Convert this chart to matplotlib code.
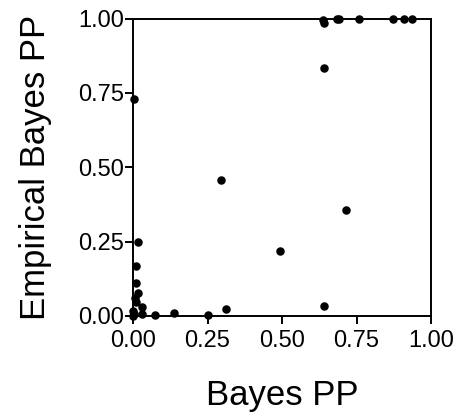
import matplotlib
matplotlib.use("Agg")
import matplotlib.pyplot as plt

plt.rcParams["font.family"] = ["Liberation Sans", "DejaVu Sans"]

# Posterior probabilities: Bayes (x) vs empirical Bayes (y)
bayes_pp = [0.003, 0.295, 0.494, 0.018, 0.009, 0.009, 0.015, 0.009, 0.029,
            0.001, 0.003, 0.029, 0.074, 0.138, 0.250, 0.311,
            0.636, 0.640, 0.683, 0.692, 0.759, 0.871, 0.910, 0.936,
            0.641, 0.714, 0.640, 0.000, 0.005]
emp_bayes_pp = [0.729, 0.456, 0.217, 0.248, 0.168, 0.112, 0.077, 0.047, 0.030,
                0.017, 0.007, 0.006, 0.002, 0.008, 0.002, 0.023,
                0.997, 0.986, 0.999, 0.999, 0.999, 0.999, 0.999, 0.999,
                0.835, 0.357, 0.033, 0.000, 0.060]
tick_vals = [0.0, 0.25, 0.5, 0.75, 1.0]
tick_labels = ["0.00", "0.25", "0.50", "0.75", "1.00"]

fig = plt.figure(figsize=(4.62, 4.15), dpi=100)
ax = fig.add_axes([0.288, 0.239, 0.645, 0.716])

ax.scatter(bayes_pp, emp_bayes_pp, s=26, color="black", zorder=3, clip_on=False)

ax.set_xlim(0, 1)
ax.set_ylim(0, 1)
ax.set_xticks(tick_vals)
ax.set_yticks(tick_vals)
ax.set_xticklabels(tick_labels)
ax.set_yticklabels(tick_labels)

for sp in ax.spines.values():
    sp.set_linewidth(1.4)
ax.tick_params(axis="both", direction="out", length=6, width=1.4,
               labelsize=17, top=False, right=False)
ax.tick_params(axis="y", pad=0.5)
ax.tick_params(axis="x", pad=4)

ax.set_xlabel("Bayes PP", fontsize=25, labelpad=20)
ax.set_ylabel("Empirical Bayes PP", fontsize=25, labelpad=19)

fig.savefig("out.png", dpi=100)
